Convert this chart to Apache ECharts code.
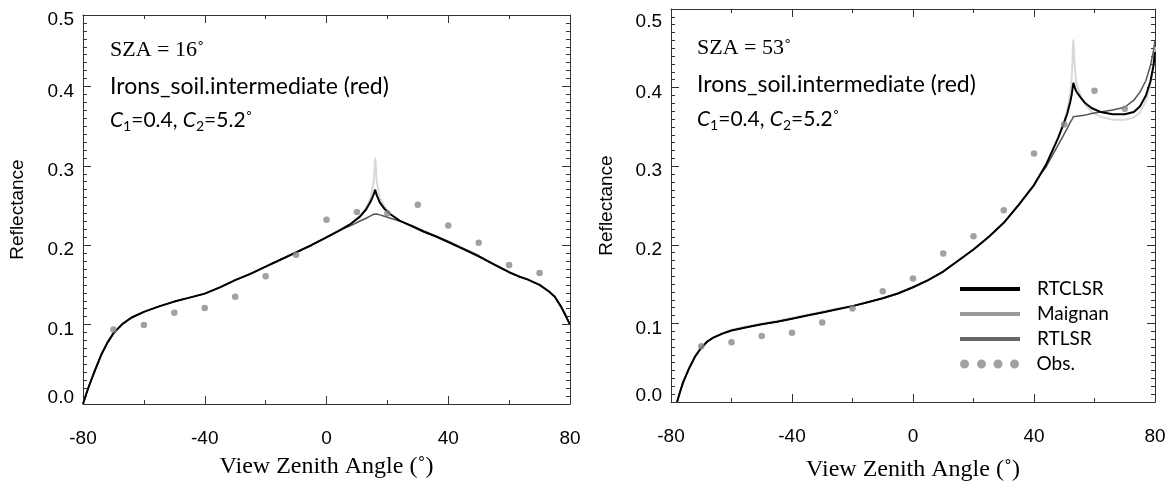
<!DOCTYPE html>
<html>
<head>
<meta charset="utf-8">
<script src="https://cdn.jsdelivr.net/npm/echarts@6/dist/echarts.min.js"></script>
<style>
html,body{margin:0;padding:0;background:#fff;}
#chart{width:1175px;height:487px;}
</style>
</head>
<body>
<div id="chart"></div>
<script>
// ---------- data ----------
const xTicks = [-80, -40, 0, 40, 80];
const yTicks = [0.0, 0.1, 0.2, 0.3, 0.4, 0.5];

const obsAngles = [-70, -60, -50, -40, -30, -20, -10, 0, 10, 20, 30, 40, 50, 60, 70];

// Left panel (SZA = 16)
const leftAngles = [-80,-79,-78,-76,-74,-72,-70,-67,-64,-60,-55,-50,-45,-40,-35,-30,-25,-20,-15,-10,-5,0,4,8,11,13,14.5,15.5,16,16.5,17.5,19,21,24,28,32,36,40,45,50,55,60,63,66,70,73,75,77,78.5,80];
const leftRTCLSR = [0.000,0.012,0.023,0.043,0.062,0.077,0.089,0.101,0.109,0.116,0.123,0.129,0.134,0.139,0.147,0.156,0.164,0.173,0.182,0.191,0.200,0.210,0.218,0.227,0.236,0.245,0.255,0.264,0.270,0.263,0.254,0.246,0.239,0.231,0.224,0.217,0.211,0.204,0.195,0.186,0.176,0.166,0.161,0.157,0.150,0.142,0.135,0.123,0.112,0.100];
const leftMaignan = [0.000,0.012,0.023,0.044,0.063,0.078,0.090,0.101,0.109,0.116,0.123,0.129,0.134,0.139,0.147,0.156,0.164,0.173,0.182,0.191,0.200,0.210,0.218,0.227,0.237,0.247,0.260,0.280,0.310,0.280,0.260,0.249,0.240,0.231,0.224,0.217,0.211,0.204,0.195,0.186,0.176,0.166,0.161,0.157,0.150,0.142,0.135,0.123,0.112,0.100];
const leftRTLSR = [0.000,0.012,0.023,0.043,0.062,0.077,0.089,0.101,0.109,0.116,0.123,0.129,0.134,0.139,0.147,0.156,0.164,0.173,0.182,0.191,0.200,0.210,0.218,0.2247,0.2305,0.234,0.237,0.239,0.240,0.2394,0.2382,0.2364,0.234,0.2304,0.2250,0.2180,0.2115,0.205,0.196,0.187,0.176,0.166,0.161,0.157,0.150,0.142,0.135,0.123,0.112,0.100];
const leftObs = [0.094, 0.0995, 0.115, 0.121, 0.135, 0.161, 0.188, 0.232, 0.242, 0.240, 0.251, 0.225, 0.203, 0.175, 0.165];

// Right panel (SZA = 53)
const rightAngles = [-78,-77,-76,-74,-72,-70,-68,-66,-63,-60,-55,-50,-45,-40,-35,-30,-25,-20,-15,-10,-5,0,5,10,15,20,25,30,35,40,42,44,46,48,50,51,52,52.5,53,53.5,54,55.5,57,59,62,66,70,73,75,77,78.5,79.5,80];
const rightRTCLSR = [0.000,0.013,0.025,0.043,0.058,0.069,0.077,0.082,0.087,0.091,0.095,0.099,0.102,0.106,0.110,0.114,0.118,0.122,0.127,0.132,0.138,0.146,0.155,0.166,0.180,0.194,0.210,0.228,0.251,0.276,0.289,0.302,0.319,0.336,0.356,0.367,0.382,0.392,0.406,0.400,0.395,0.387,0.380,0.374,0.369,0.366,0.366,0.369,0.376,0.390,0.408,0.428,0.445];
const rightMaignan = [0.000,0.013,0.025,0.043,0.058,0.069,0.077,0.082,0.088,0.092,0.096,0.100,0.103,0.107,0.111,0.115,0.119,0.122,0.127,0.132,0.138,0.146,0.155,0.166,0.180,0.194,0.210,0.228,0.251,0.276,0.289,0.302,0.319,0.337,0.358,0.372,0.392,0.415,0.461,0.425,0.405,0.389,0.378,0.369,0.363,0.359,0.359,0.362,0.368,0.383,0.404,0.428,0.452];
const rightRTLSR = [0.000,0.013,0.025,0.043,0.058,0.069,0.077,0.082,0.087,0.091,0.095,0.099,0.102,0.106,0.110,0.114,0.118,0.122,0.127,0.132,0.138,0.146,0.155,0.166,0.180,0.194,0.210,0.228,0.251,0.276,0.289,0.299,0.313,0.327,0.341,0.348,0.356,0.359,0.363,0.3632,0.3635,0.3643,0.365,0.367,0.369,0.3715,0.375,0.384,0.394,0.409,0.428,0.447,0.460];
const rightObs = [0.071, 0.076, 0.084, 0.088, 0.101, 0.119, 0.141, 0.157, 0.189, 0.211, 0.244, 0.316, 0.353, 0.396, 0.373];

const seriesNames = ['RTCLSR', 'Maignan', 'RTLSR', 'Obs.'];

// ---------- chart ----------
const SANS = '"Liberation Sans", Arial, sans-serif';
const SERIF = '"Liberation Serif", "Times New Roman", serif';
const CAL = 'Lato, "Liberation Sans", sans-serif';
const AX = '#333';

function pairs(xs, ys) { return xs.map((x, i) => [x, ys[i]]); }

function xAxisDef(grid, pos, nameGap) {
  const bottom = pos === 'bottom';
  return {
    type: 'value', gridIndex: grid, position: pos,
    min: xTicks[0], max: xTicks[xTicks.length - 1], interval: xTicks[1] - xTicks[0],
    name: bottom ? 'View Zenith Angle (\u02DA)' : '',
    nameLocation: 'middle', nameGap: nameGap,
    nameTextStyle: { fontFamily: SERIF, fontSize: 24, color: '#000' },
    axisLine: { show: true, onZero: false, lineStyle: { color: AX, width: 1 } },
    axisTick: { show: true, inside: true, length: 8, lineStyle: { color: AX } },
    minorTick: { show: true, splitNumber: 2, length: 4, lineStyle: { color: AX } },
    axisLabel: { show: bottom, margin: 25, fontFamily: SANS, fontSize: 19, color: '#000',
      showMinLabel: true, showMaxLabel: true },
    splitLine: { show: false }, minorSplitLine: { show: false }
  };
}

function yAxisDef(grid, pos, max, topPad, nameGap) {
  const left = pos === 'left';
  return {
    type: 'value', gridIndex: grid, position: pos,
    min: yTicks[0], max: max, interval: yTicks[1] - yTicks[0],
    name: left ? 'Reflectance' : '',
    nameLocation: 'middle', nameGap: nameGap, nameRotate: 90,
    nameTextStyle: { fontFamily: SANS, fontSize: 19, color: '#000' },
    axisLine: { show: true, onZero: false, lineStyle: { color: AX, width: 1 } },
    axisTick: { show: true, inside: true, length: 8, lineStyle: { color: AX } },
    minorTick: { show: true, splitNumber: 10, length: 4, lineStyle: { color: AX } },
    axisLabel: {
      show: left, margin: 9, color: '#000', fontFamily: SANS, fontSize: 19,
      showMaxLabel: true,
      formatter: function (v) {
        if (v === 0) return '{z|0.0}';
        if (v >= max - 0.001) return '{t|' + yTicks[yTicks.length - 1].toFixed(1) + '}';
        return '{d|' + v.toFixed(1) + '}';
      },
      rich: {
        d: { fontFamily: SANS, fontSize: 19, color: '#000', padding: [10, 0, 0, 0] },
        z: { fontFamily: SANS, fontSize: 19, color: '#000', padding: [0, 0, 12, 0] },
        t: { fontFamily: SANS, fontSize: 19, color: '#000', padding: [topPad, 0, 0, 0] }
      }
    },
    splitLine: { show: false }, minorSplitLine: { show: false }
  };
}

function panelSeries(xi, yi, angles, rt, mg, ls, obs) {
  return [
    { name: seriesNames[1], type: 'line', xAxisIndex: xi, yAxisIndex: yi, data: pairs(angles, mg),
      showSymbol: false, symbol: 'none', color: '#d9d9d9', lineStyle: { color: '#d9d9d9', width: 2 }, z: 2 },
    { name: seriesNames[2], type: 'line', xAxisIndex: xi, yAxisIndex: yi, data: pairs(angles, ls),
      showSymbol: false, symbol: 'none', color: '#555', lineStyle: { color: '#555', width: 1.5 }, z: 3 },
    { name: seriesNames[0], type: 'line', xAxisIndex: xi, yAxisIndex: yi, data: pairs(angles, rt),
      showSymbol: false, symbol: 'none', color: '#000', lineStyle: { color: '#000', width: 2 }, z: 4 },
    { name: seriesNames[3], type: 'scatter', xAxisIndex: xi, yAxisIndex: yi, data: pairs(obsAngles, obs),
      symbol: 'circle', symbolSize: 6.5, color: '#8a8a8a', itemStyle: { color: '#8a8a8a' }, z: 5 }
  ];
}

const dotsIcon = 'path://M0.5,4.5a4.5,4.5 0 1,0 9,0a4.5,4.5 0 1,0 -9,0z' +
  'M17.5,4.5a4.5,4.5 0 1,0 9,0a4.5,4.5 0 1,0 -9,0z' +
  'M34,4.5a4.5,4.5 0 1,0 9,0a4.5,4.5 0 1,0 -9,0z' +
  'M50.5,4.5a4.5,4.5 0 1,0 9,0a4.5,4.5 0 1,0 -9,0z';

function annotation(x, y1, y2, y3, sza) {
  return [
    { type: 'text', x: x, y: y1, style: { text: 'SZA = ' + sza + '\u02DA', font: '22px ' + SERIF,
      fill: '#000', verticalAlign: 'middle', textVerticalAlign: 'middle' } },
    { type: 'text', x: x, y: y2, style: { text: 'Irons_soil.intermediate (red)', font: '23px ' + CAL,
      fill: '#000', verticalAlign: 'middle', textVerticalAlign: 'middle' } },
    { type: 'text', x: x, y: y3, style: {
      text: '{ci|C}{sb|1}{n|=0.4, }{ci|C}{sb|2}{n|=5.2}{dg|\u02DA}',
      fill: '#000', verticalAlign: 'middle', textVerticalAlign: 'middle',
      rich: {
        ci: { fontFamily: CAL, fontStyle: 'italic', fontSize: 21, lineHeight: 26, fill: '#000' },
        n: { fontFamily: CAL, fontSize: 21, lineHeight: 26, fill: '#000' },
        sb: { fontFamily: CAL, fontSize: 14, verticalAlign: 'bottom', fill: '#000' },
        dg: { fontFamily: SERIF, fontSize: 21, lineHeight: 26, fill: '#000' }
      }
    } }
  ];
}

const chart = echarts.init(document.getElementById('chart'), null, { renderer: 'canvas' });
chart.setOption({
  animation: false,
  backgroundColor: '#fff',
  grid: [
    { left: 83, top: 15, width: 487, height: 389 },
    { left: 671, top: 9, width: 484, height: 394 }
  ],
  xAxis: [
    xAxisDef(0, 'bottom', 51), xAxisDef(0, 'top', 0),
    xAxisDef(1, 'bottom', 56), xAxisDef(1, 'top', 0)
  ],
  yAxis: [
    yAxisDef(0, 'left', 0.49, 10, 56), yAxisDef(0, 'right', 0.49, 10, 0),
    yAxisDef(1, 'left', 0.5, 26, 55), yAxisDef(1, 'right', 0.5, 26, 0)
  ],
  legend: [
    { orient: 'vertical', left: 955, top: 274, itemWidth: 60, itemHeight: 4, itemGap: 5,
      icon: 'rect', selectedMode: false,
      textStyle: { fontFamily: CAL, fontSize: 19, color: '#000', lineHeight: 20, padding: [0, 0, 0, 12] },
      data: [
        { name: 'RTCLSR', itemStyle: { color: '#000', borderWidth: 0 } },
        { name: 'Maignan', itemStyle: { color: '#9a9a9a', borderWidth: 0 } },
        { name: 'RTLSR', itemStyle: { color: '#666', borderWidth: 0 } }
      ] },
    { orient: 'vertical', left: 955, top: 349, itemWidth: 60, itemHeight: 9, selectedMode: false,
      textStyle: { fontFamily: CAL, fontSize: 19, color: '#000', lineHeight: 20, padding: [0, 0, 0, 12] },
      data: [ { name: 'Obs.', icon: dotsIcon, itemStyle: { color: '#8a8a8a', borderWidth: 0 } } ] }
  ],
  graphic: annotation(110, 50, 87, 120, 16).concat(annotation(697, 48, 85, 119, 53)),
  series: panelSeries(0, 0, leftAngles, leftRTCLSR, leftMaignan, leftRTLSR, leftObs)
    .concat(panelSeries(2, 2, rightAngles, rightRTCLSR, rightMaignan, rightRTLSR, rightObs))
});
</script>
</body>
</html>
